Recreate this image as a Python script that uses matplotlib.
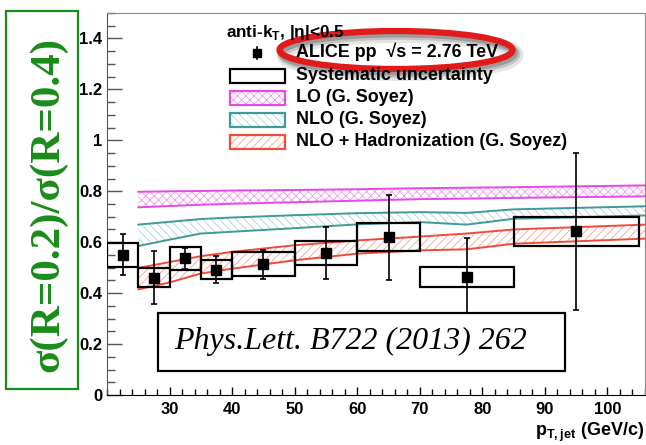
"""
Jet cross-section ratio sigma(R=0.2)/sigma(R=0.4) in pp at 2.76 TeV,
ALICE data with systematic boxes against LO / NLO / NLO+hadronization bands.
"""

import numpy as np
import matplotlib
matplotlib.use('Agg')
import matplotlib.pyplot as plt
from matplotlib.patches import Rectangle, Ellipse
from matplotlib.ticker import MultipleLocator, FormatStrFormatter

plt.rcParams['font.family'] = ['Liberation Sans', 'DejaVu Sans']
plt.rcParams['mathtext.fontset'] = 'custom'
plt.rcParams['mathtext.rm'] = 'Liberation Sans:bold'
plt.rcParams['mathtext.bf'] = 'Liberation Sans:bold'
plt.rcParams['hatch.linewidth'] = 0.6

# --- measured ratio, pT bins ---
bin_lo = np.array([20, 25, 30, 35, 40, 50, 60, 70, 85])
bin_hi = np.array([25, 30, 35, 40, 50, 60, 70, 85, 105])
ratio = np.array([0.550, 0.460, 0.536, 0.491, 0.514, 0.557, 0.620, 0.464, 0.644])
stat_up = np.array([0.082, 0.104, 0.040, 0.053, 0.056, 0.102, 0.166, 0.152, 0.308])
stat_dn = np.array([0.079, 0.103, 0.040, 0.052, 0.058, 0.101, 0.169, 0.153, 0.309])
syst_lo = np.array([0.504, 0.424, 0.490, 0.455, 0.467, 0.510, 0.566, 0.425, 0.586])
syst_hi = np.array([0.595, 0.497, 0.583, 0.531, 0.561, 0.605, 0.674, 0.503, 0.697])

# --- theory bands (G. Soyez) ---
th_x = np.array([25, 30, 35, 40, 50, 60, 70, 77.5, 85, 106])
lo_up = np.array([0.798, 0.800, 0.801, 0.803, 0.805, 0.808, 0.812, 0.814, 0.816, 0.823])
lo_dn = np.array([0.737, 0.742, 0.747, 0.751, 0.757, 0.763, 0.769, 0.771, 0.774, 0.780])
nlo_up = np.array([0.669, 0.680, 0.691, 0.697, 0.706, 0.714, 0.718, 0.715, 0.729, 0.741])
nlo_dn = np.array([0.585, 0.610, 0.634, 0.641, 0.655, 0.670, 0.679, 0.669, 0.692, 0.705])
had_up = np.array([0.499, 0.522, 0.545, 0.562, 0.588, 0.607, 0.622, 0.634, 0.650, 0.669])
had_dn = np.array([0.415, 0.442, 0.477, 0.496, 0.529, 0.555, 0.568, 0.572, 0.594, 0.614])

MAGENTA, MAG_H = '#e24be8', '#f29af2'
TEAL, TEAL_H = '#3f9a98', '#a8d4d2'
RED, RED_H = '#f04b3a', '#f7a294'
GREEN = '#1a8c1a'

W, H = 646, 445
fig = plt.figure(figsize=(W / 100, H / 100), dpi=100)
ax = fig.add_axes([107 / W, 1 - 395 / H, 538 / W, 382 / H])


def band(x, lo, hi, line, hatch_col, hatch):
    ax.fill_between(x, lo, hi, facecolor='none', edgecolor=hatch_col,
                    hatch=hatch, linewidth=0, zorder=1)
    ax.plot(x, hi, color=line, lw=1.4, zorder=2)
    ax.plot(x, lo, color=line, lw=1.4, zorder=2)


band(th_x, lo_dn, lo_up, MAGENTA, MAG_H, 'xxxx')
band(th_x, nlo_dn, nlo_up, TEAL, TEAL_H, '\\\\\\\\')
band(th_x, had_dn, had_up, RED, RED_H, '////')

# systematic boxes
for x0, x1, y0, y1 in zip(bin_lo, bin_hi, syst_lo, syst_hi):
    ax.add_patch(Rectangle((x0, y0), x1 - x0, y1 - y0, fill=False,
                           edgecolor='black', lw=1.6, zorder=3))

centres = 0.5 * (bin_lo + bin_hi)
ax.errorbar(centres, ratio, yerr=[stat_dn, stat_up], fmt='s', color='black',
            ms=6.5, elinewidth=1.2, capsize=2.2, capthick=1.2, zorder=4)

ax.set_xlim(20, 106)
ax.set_ylim(0, 1.5)
ax.xaxis.set_major_locator(MultipleLocator(10))
ax.xaxis.set_minor_locator(MultipleLocator(2))
ax.yaxis.set_major_locator(MultipleLocator(0.2))
ax.yaxis.set_minor_locator(MultipleLocator(0.05))
ax.yaxis.set_major_formatter(FormatStrFormatter('%g'))
ax.tick_params(axis='both', which='both', direction='in', top=False, right=False,
               labelsize=12, width=1.0)
ax.tick_params(axis='y', which='major', length=11, color='#555555')
ax.tick_params(axis='y', which='minor', length=6, color='#555555')
ax.tick_params(axis='x', which='major', length=6, pad=5)
ax.tick_params(axis='x', which='minor', length=4)
for lab in ax.get_xticklabels() + ax.get_yticklabels():
    lab.set_fontweight('bold')
ax.set_xticks([30, 40, 50, 60, 70, 80, 90, 100])
ax.spines['top'].set_color('#8a8a8a')
ax.spines['right'].set_color('#8a8a8a')
ax.spines['left'].set_color('#555555')

fig.text(644 / W, 1 - 432 / H, r'$\mathbf{p}_{\mathbf{T,jet}}$ (GeV/c)',
         ha='right', va='center', fontsize=13, fontweight='bold')

# --- legend, drawn in figure pixels ---
def fx(px):
    return px / W


def fy(py):
    return 1 - py / H


fig.text(fx(226), fy(32), r'anti-k$_{\mathbf{T}}$, |η|<0.5', fontsize=12.3,
         fontweight='bold', va='center', ha='left')
fig.lines.append(plt.Line2D([fx(257)] * 2, [fy(47), fy(59)], color='black', lw=1.2,
                            transform=fig.transFigure))
fig.lines.append(plt.Line2D([fx(257)], [fy(53)], marker='s', ms=6, color='black',
                            transform=fig.transFigure))
entries = [
    ('ALICE pp  √s = 2.76 TeV', 52),
    ('Systematic uncertainty', 75),
    ('LO (G. Soyez)', 97),
    ('NLO (G. Soyez)', 119),
    ('NLO + Hadronization (G. Soyez)', 141),
]
for label, py in entries:
    fig.text(fx(296), fy(py), label, fontsize=12.9, fontweight='bold',
             va='center', ha='left', zorder=5)

leg_boxes = [(76, 'black', None, 'none'),
             (98, MAGENTA, 'xxxx', MAG_H),
             (120, TEAL, '\\\\\\\\', TEAL_H),
             (142, RED, '////', RED_H)]
for py, edge, hatch, hcol in leg_boxes:
    if hatch:
        fig.patches.append(Rectangle((fx(230), fy(py + 7)), 55 / W, 14 / H,
                                     transform=fig.transFigure, facecolor='none',
                                     edgecolor=hcol, hatch=hatch, lw=0))
    fig.patches.append(Rectangle((fx(230), fy(py + 7)), 55 / W, 14 / H,
                                 transform=fig.transFigure, fill=False,
                                 edgecolor=edge, lw=1.6))

# highlight ring around the dataset label, with a soft shadow
for dx, dy, a, lw in [(4, 5, 0.10, 10), (3, 4, 0.15, 7), (2, 3, 0.2, 5)]:
    fig.patches.append(Ellipse((fx(396 + dx), fy(50 + dy)), 233 / W, 38 / H,
                               transform=fig.transFigure, fill=False,
                               edgecolor='black', alpha=a, lw=lw))
fig.patches.append(Ellipse((fx(396), fy(50)), 233 / W, 38 / H,
                           transform=fig.transFigure, fill=False,
                           edgecolor='#e11b1b', lw=4.5))

# publication reference
fig.patches.append(Rectangle((fx(158), fy(371)), 407 / W, 58 / H,
                             transform=fig.transFigure, facecolor='white',
                             edgecolor='black', lw=1.6, zorder=6))
fig.text(fx(351), fy(341), 'Phys.Lett. B722 (2013) 262', family='Liberation Serif',
         style='italic', fontsize=23, ha='center', va='center', zorder=7)

# y-axis quantity in a framed box on the left
fig.patches.append(Rectangle((fx(6), fy(389)), 72 / W, 378 / H,
                             transform=fig.transFigure, fill=False,
                             edgecolor=GREEN, lw=1.6))
fig.text(fx(48), fy(205), 'σ(R=0.2)/σ(R=0.4)', family=['Liberation Serif', 'DejaVu Serif'],
         fontweight='bold', color=GREEN, fontsize=31, rotation=90,
         ha='center', va='center')

fig.savefig('out.png', dpi=100)
